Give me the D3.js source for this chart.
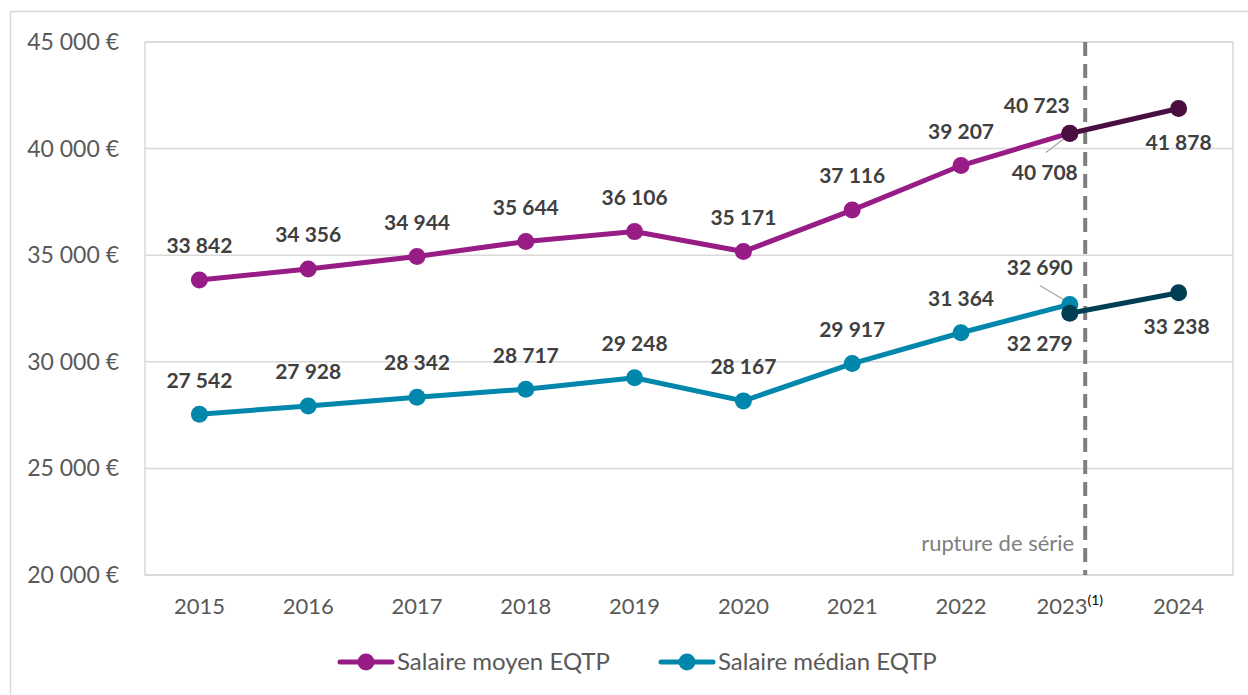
<!DOCTYPE html>
<html>
<head>
<meta charset="utf-8">
<script src="https://cdn.jsdelivr.net/npm/d3@7"></script>
<style>
  body { margin: 0; background: #fff; }
  svg { display: block; font-family: Lato, 'Open Sans', sans-serif; }
</style>
</head>
<body>
<div id="chart"></div>
<script>
const years = ['2015', '2016', '2017', '2018', '2019', '2020', '2021', '2022', '2023', '2024']
const moyen = [33842, 34356, 34944, 35644, 36106, 35171, 37116, 39207, 40723]
const median = [27542, 27928, 28342, 28717, 29248, 28167, 29917, 31364, 32690]
// nouvelle série à partir de 2023
const newYears = ['2023', '2024']
const moyenNew = [40708, 41878]
const medianNew = [32279, 33238]
const yTicks = [20000, 25000, 30000, 35000, 40000, 45000]

const width = 1248
const height = 695
const margin = { top: 42, right: 15, bottom: 120, left: 145 }

const fr = d3.formatLocale({ decimal: ',', thousands: '\u00a0', grouping: [3], currency: ['', '\u00a0€'] })
const fmt = fr.format(',')
const fmtEur = fr.format('$,')

const svg = d3.select('#chart').append('svg')
  .attr('width', width)
  .attr('height', height)

// cadre du graphique
svg.append('rect')
  .attr('x', 10.5).attr('y', 11.5)
  .attr('width', width + 20).attr('height', height + 20)
  .attr('fill', 'none').attr('stroke', '#d9d9d9').attr('stroke-width', 1.5)

const x = d3.scaleBand()
  .domain(years)
  .range([margin.left, width - margin.right])

const y = d3.scaleLinear()
  .domain([20000, 45000])
  .range([height - margin.bottom, margin.top])

const cx = d => x(d) + x.bandwidth() / 2

// grille
svg.append('g')
  .selectAll('line')
  .data(yTicks)
  .join('line')
  .attr('x1', margin.left).attr('x2', width - margin.right)
  .attr('y1', d => y(d)).attr('y2', d => y(d))
  .attr('stroke', '#d9d9d9').attr('stroke-width', 1.5)

svg.append('rect')
  .attr('x', margin.left).attr('y', margin.top)
  .attr('width', width - margin.right - margin.left)
  .attr('height', y(20000) - margin.top)
  .attr('fill', 'none').attr('stroke', '#d9d9d9').attr('stroke-width', 1.5)

// axe Y
svg.append('g')
  .selectAll('text')
  .data(yTicks)
  .join('text')
  .attr('x', 119)
  .attr('y', d => y(d))
  .attr('dy', '0.35em')
  .attr('text-anchor', 'end')
  .attr('fill', '#595959')
  .style('font-size', '23px')
  .text(d => fmtEur(d))

// axe X
const xl = svg.append('g')
  .selectAll('text')
  .data(years)
  .join('text')
  .attr('x', d => cx(d))
  .attr('y', 614)
  .attr('text-anchor', 'middle')
  .attr('fill', '#595959')
  .style('font-size', '22px')
  .text(d => d)
xl.filter(d => d === '2023')
  .append('tspan')
  .attr('dy', -9)
  .attr('fill', '#000')
  .style('font-size', '14px')
  .text('(1)')

// rupture de série
const xBreak = (cx('2023') + cx('2024')) / 2 - 39
svg.append('line')
  .attr('x1', xBreak).attr('x2', xBreak)
  .attr('y1', margin.top).attr('y2', y(20000))
  .attr('stroke', '#7f7f7f').attr('stroke-width', 4)
  .attr('stroke-dasharray', '14 8')
svg.append('text')
  .attr('x', xBreak - 11)
  .attr('y', 551)
  .attr('text-anchor', 'end')
  .attr('fill', '#7f7f7f')
  .style('font-size', '22px')
  .text('rupture de série')

const line = d3.line().x(d => cx(d[0])).y(d => y(d[1]))

const drawSeries = (yrs, vals, color) => {
  const pts = yrs.map((d, i) => [d, vals[i]])
  svg.append('path')
    .datum(pts)
    .attr('d', line)
    .attr('fill', 'none')
    .attr('stroke', color)
    .attr('stroke-width', 5)
  svg.append('g')
    .selectAll('circle')
    .data(pts)
    .join('circle')
    .attr('cx', d => cx(d[0]))
    .attr('cy', d => y(d[1]))
    .attr('r', 8.5)
    .attr('fill', color)
}

const labels = (pts, dx, dy) => {
  svg.append('g')
    .selectAll('text')
    .data(pts)
    .join('text')
    .attr('x', d => cx(d[0]) + dx)
    .attr('y', d => y(d[1]) + dy)
    .attr('dy', '0.35em')
    .attr('text-anchor', 'middle')
    .attr('fill', '#404040')
    .style('font-size', '21px')
    .style('font-weight', 'bold')
    .text(d => fmt(d[1]))
}

const leader = (yr, v, x2, y2) => {
  svg.append('line')
    .attr('x1', cx(yr) - 3).attr('y1', y(v) + (y2 > y(v) ? 3 : -3))
    .attr('x2', x2).attr('y2', y2)
    .attr('stroke', '#a6a6a6').attr('stroke-width', 1.2)
}

const purple = '#981c85'
const purpleDark = '#4a0f41'
const teal = '#0087ab'
const tealDark = '#003e53'

leader('2023', moyenNew[0], cx('2023') - 24, y(moyenNew[0]) + 19)
leader('2023', median[8], cx('2023') - 30, y(median[8]) - 19)

drawSeries(years.slice(0, 9), moyen, purple)
drawSeries(newYears, moyenNew, purpleDark)
drawSeries(years.slice(0, 9), median, teal)
drawSeries(newYears, medianNew, tealDark)

const moyPts = years.slice(0, 8).map((d, i) => [d, moyen[i]])
const medPts = years.slice(0, 8).map((d, i) => [d, median[i]])
labels(moyPts, 0, -34)
labels(medPts, 0, -34)
labels([['2023', moyen[8]]], -33, -28)
labels([['2023', moyenNew[0]]], -25, 39)
labels([['2024', moyenNew[1]]], 0, 34)
labels([['2023', median[8]]], -30, -37)
labels([['2023', medianNew[0]]], -30, 30)
labels([['2024', medianNew[1]]], -2, 34)

// légende
const legend = [
  { name: 'Salaire moyen EQTP', color: purple, x: 338 },
  { name: 'Salaire médian EQTP', color: teal, x: 659 }
]
const lg = svg.append('g')
  .selectAll('g')
  .data(legend)
  .join('g')
  .attr('transform', d => `translate(${d.x},662)`)
lg.append('line')
  .attr('x1', 2).attr('x2', 54)
  .attr('stroke', d => d.color)
  .attr('stroke-width', 5)
  .attr('stroke-linecap', 'round')
lg.append('circle')
  .attr('cx', 28).attr('r', 8.5)
  .attr('fill', d => d.color)
lg.append('text')
  .attr('x', 59)
  .attr('dy', '0.35em')
  .attr('fill', '#595959')
  .style('font-size', '24px')
  .text(d => d.name)
</script>
</body>
</html>
